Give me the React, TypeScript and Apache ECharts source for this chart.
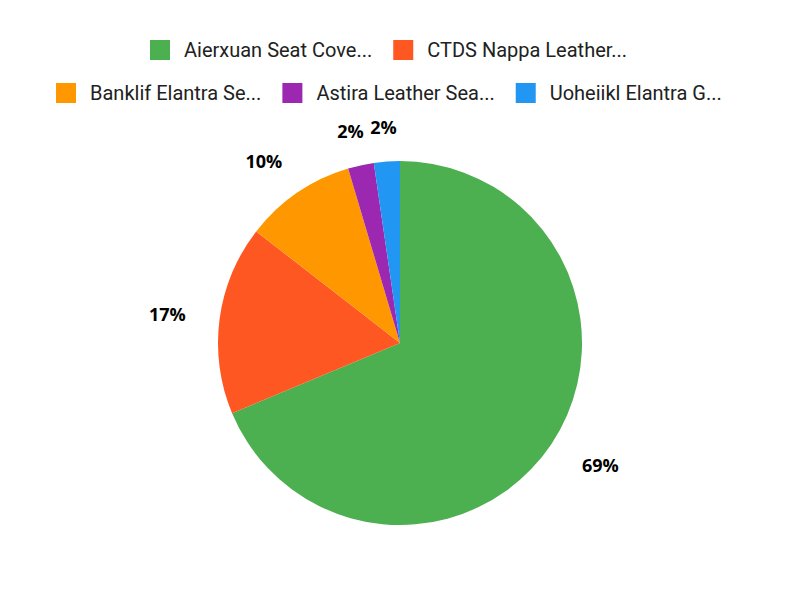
import React, { useEffect, useRef } from "react";
import * as echarts from "echarts";

const products = [
  "Aierxuan Seat Cove...",
  "CTDS Nappa Leather...",
  "Banklif Elantra Se...",
  "Astira Leather Sea...",
  "Uoheiikl Elantra G...",
];
const shares = [68.7, 16.8, 9.9, 2.3, 2.3];
const colors = ["#4CAF50", "#FF5722", "#FF9800", "#9C27B0", "#2196F3"];

const CX = 400;
const CY = 343;
const RADIUS = 182;

const App = () => {
  const chartRef = useRef<HTMLDivElement>(null);

  useEffect(() => {
    if (!chartRef.current) return;
    const chart = echarts.init(chartRef.current, null, { renderer: "svg" });
    const total = shares.reduce((a, b) => a + b, 0);

    const legendText = {
      fontFamily: "Roboto",
      fontSize: 20,
      lineHeight: 20,
      color: "#212121",
      padding: [0, 0, 0, 9],
    };

    chart.setOption({
      animation: false,
      color: colors,
      legend: [
        {
          data: products.slice(0, 2),
          left: 150,
          top: 40,
          padding: 0,
          icon: "rect",
          itemWidth: 20,
          itemHeight: 20,
          itemGap: 21,
          textStyle: legendText,
        },
        {
          data: products.slice(2),
          left: 56,
          top: 83,
          padding: 0,
          icon: "rect",
          itemWidth: 20,
          itemHeight: 20,
          itemGap: 21,
          textStyle: legendText,
        },
      ],
      series: [
        {
          type: "pie",
          center: [CX, CY],
          radius: RADIUS,
          startAngle: 90,
          clockwise: true,
          avoidLabelOverlap: false,
          itemStyle: { borderWidth: 0 },
          emphasis: { disabled: true },
          labelLine: { show: false },
          label: {
            show: true,
            position: "outside",
            fontFamily: "Open Sans",
            fontWeight: "bold",
            fontSize: 18,
            lineHeight: 18,
            color: "#000",
            formatter: (p: any) => Math.round(p.percent) + "%",
          },
          labelLayout: (params: any) => {
            const i = params.dataIndex;
            const before = shares.slice(0, i).reduce((a, b) => a + b, 0);
            const mid = ((before + shares[i] / 2) / total) * Math.PI * 2;
            const dx = Math.sin(mid);
            const dy = -Math.cos(mid);
            const m = Math.max(Math.abs(dx), Math.abs(dy));
            const w = params.labelRect.width;
            const h = params.labelRect.height;
            const r0 = 203;
            return {
              x: CX + dx * r0 + (w / 2 + 13) * (dx / m),
              y: CY + dy * r0 + (h / 2 + 5) * (dy / m),
              align: "center",
              verticalAlign: "middle",
            };
          },
          data: products.map((name, i) => ({ name, value: shares[i] })),
        },
      ],
    });

    return () => {
      chart.dispose();
    };
  }, []);

  return (
    <div
      ref={chartRef}
      style={{ position: "fixed", left: 0, top: 0, width: 800, height: 600, background: "#fff" }}
    ></div>
  );
};

export default App;
